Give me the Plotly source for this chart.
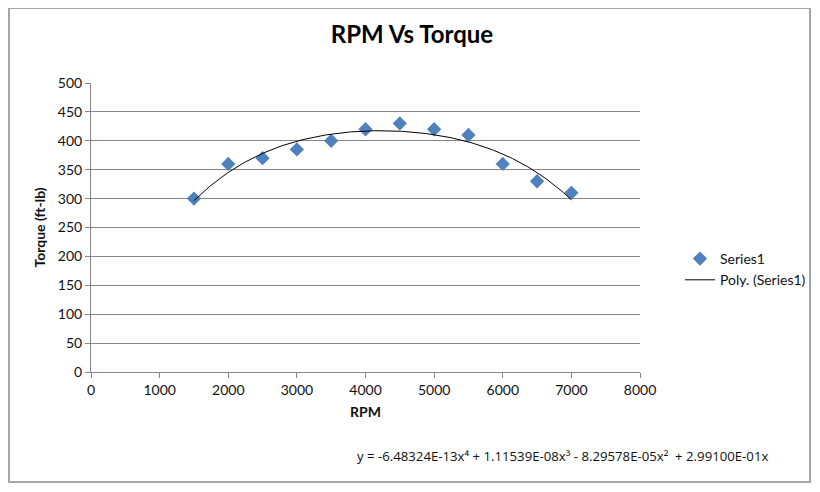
import numpy as np
import plotly.graph_objects as go

rpm = [1500, 2000, 2500, 3000, 3500, 4000, 4500, 5000, 5500, 6000, 6500, 7000]
torque = [300, 360, 370, 385, 400, 420, 430, 420, 410, 360, 330, 310]

# trendline coefficients as printed on the chart (x^4, x^3, x^2, x, const)
poly_coef = [-6.48324e-13, 1.11539e-08, -8.29578e-05, 2.99100e-01, 0.0]
equation_text = "y = -6.48324E-13x⁴ + 1.11539E-08x³ - 8.29578E-05x²  + 2.99100E-01x"

x_ticks = [0, 1000, 2000, 3000, 4000, 5000, 6000, 7000, 8000]
y_ticks = [0, 50, 100, 150, 200, 250, 300, 350, 400, 450, 500]

xs = np.linspace(min(rpm), max(rpm), 200)
ys = np.polyval(poly_coef, xs)

W, H = 804, 476
L, R, T, B = 83, 172, 75, 112
PW, PH = W - L - R, H - T - B

FONT = "Lato, 'Open Sans', sans-serif"
fig = go.Figure()
fig.add_trace(go.Scatter(x=rpm, y=torque, mode="markers", name="Series1",
                         marker=dict(symbol="diamond", size=11, color="#4F81BD")))
fig.add_trace(go.Scatter(x=xs, y=ys, mode="lines", name="Poly. (Series1)",
                         line=dict(color="black", width=1)))

fig.update_layout(
    width=W, height=H,
    margin=dict(l=L, r=R, t=T, b=B),
    paper_bgcolor="white", plot_bgcolor="white",
    font=dict(family=FONT, size=14, color="#111"),
    title=dict(text="<b>RPM Vs Torque</b>", x=404/W, xanchor="center",
               y=1 - 27/H, yanchor="middle", font=dict(size=24, color="black")),
    showlegend=True,
    legend=dict(xref="container", yref="container", x=672/W, y=1 - 235/H,
                xanchor="left", yanchor="top", bgcolor="rgba(0,0,0,0)",
                font=dict(size=14, color="#111"), tracegroupgap=6),
    shapes=[dict(type="rect", xref="paper", yref="paper",
                 x0=-(L - 1) / PW, x1=(W - L - 2) / PW, y0=-(B - 2) / PH, y1=(H - B) / PH,
                 fillcolor="rgba(0,0,0,0)", line=dict(color="#a6a6a6", width=2), layer="below")],
    annotations=[dict(text=equation_text, xref="paper", yref="paper",
                      x=(355 - 91) / PW, y=-(456 - 372) / PH, xanchor="left", yanchor="middle",
                      showarrow=False, font=dict(family="'Open Sans', sans-serif", size=13.2, color="#111"))],
)
fig.update_xaxes(range=[0, 8000], tickvals=x_ticks, showgrid=False, zeroline=False,
                 showline=True, linecolor="#868686", ticks="outside", ticklen=5,
                 tickcolor="#868686",
                 title=dict(text="<b>RPM</b>", font=dict(size=14, color="#111"), standoff=10))
fig.update_yaxes(range=[0, 500], tickvals=y_ticks, showgrid=True, gridcolor="#868686",
                 zeroline=False, showline=True, linecolor="#868686", ticks="outside",
                 ticklen=5, tickcolor="#868686",
                 title=dict(text="<b>Torque (ft-lb)</b>", font=dict(size=14, color="#111"), standoff=8))

fig.write_html("out.html")
